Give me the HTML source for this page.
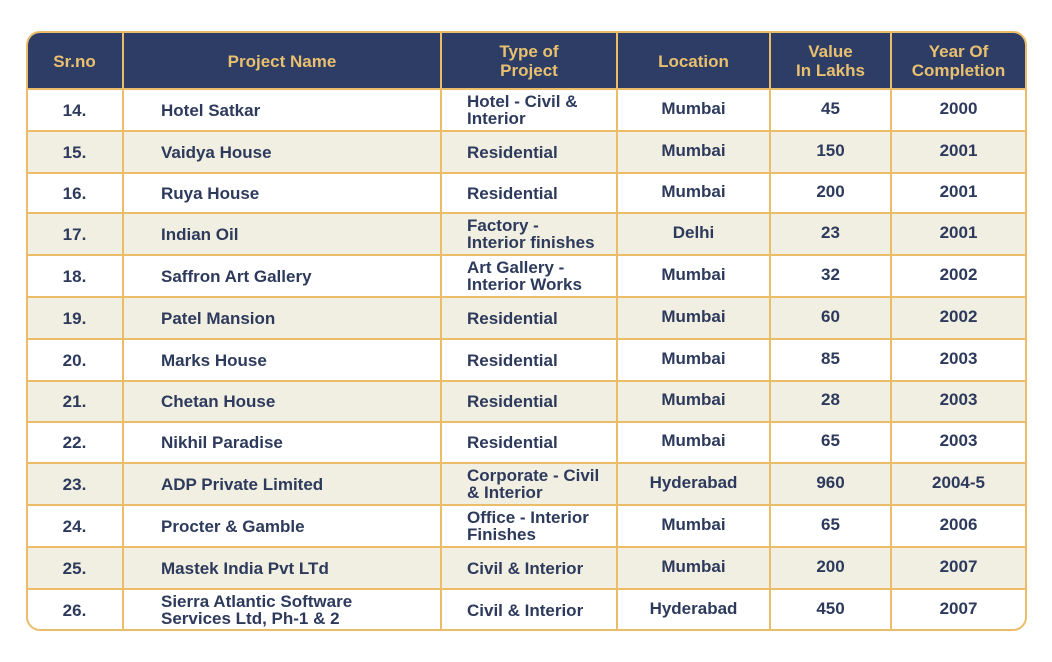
<!DOCTYPE html>
<html><head><style>
body{margin:0;width:1052px;height:662px;background:#fff;font-family:"Liberation Sans",sans-serif;position:relative;overflow:hidden}
.t{position:absolute;left:26px;top:31px;width:997px;height:596px;border:2px solid #ebbd68;border-radius:14px;overflow:hidden;background:#fff}
.h{position:absolute;left:0;top:0;width:100%;height:56px;background:#2d3d66}
.r{position:absolute;left:0;width:100%;border-top:2px solid #ebbd68}
.alt{background:#f1eee2}
.v{position:absolute;top:0;bottom:0;width:2px;background:#ebbd68}
.c{position:absolute;display:flex;align-items:center;font-weight:bold;font-size:17px;color:#2d3a5c;line-height:17px}
.hc{color:#e8c070;justify-content:center;text-align:center;line-height:19px}
.ctr{justify-content:center;text-align:center}
</style></head><body>
<div class="t" id="t"></div>
<script>
const t=document.getElementById('t');
const rows=[
["14.","Hotel Satkar","Hotel - Civil &amp;<br>Interior","Mumbai","45","2000"],
["15.","Vaidya House","Residential","Mumbai","150","2001"],
["16.","Ruya House","Residential","Mumbai","200","2001"],
["17.","Indian Oil","Factory -<br>Interior finishes","Delhi","23","2001"],
["18.","Saffron Art Gallery","Art Gallery -<br>Interior Works","Mumbai","32","2002"],
["19.","Patel Mansion","Residential","Mumbai","60","2002"],
["20.","Marks House","Residential","Mumbai","85","2003"],
["21.","Chetan House","Residential","Mumbai","28","2003"],
["22.","Nikhil Paradise","Residential","Mumbai","65","2003"],
["23.","ADP Private Limited","Corporate - Civil<br>&amp; Interior","Hyderabad","960","2004-5"],
["24.","Procter &amp; Gamble","Office - Interior<br>Finishes","Mumbai","65","2006"],
["25.","Mastek India Pvt LTd","Civil &amp; Interior","Mumbai","200","2007"],
["26.","Sierra Atlantic Software<br>Services Ltd, Ph-1 &amp; 2","Civil &amp; Interior","Hyderabad","450","2007"]];
const tops=[88,130,172,212,254,296,338,380,421,462,504,546,588,630];
const cols=[26,123,441,617,770,891,1026];
let h='<div class="h"></div>';
const hd=["Sr.no","Project Name","Type of<br>Project","Location","Value<br>In Lakhs","Year Of<br>Completion"];
hd.forEach((s,i)=>{h+=`<div class="c hc" style="left:${cols[i]-28}px;width:${cols[i+1]-cols[i]}px;top:0;height:56px">${s}</div>`});
rows.forEach((r,k)=>{
 const y=tops[k]-33,hh=tops[k+1]-tops[k];
 h+=`<div class="r ${k%2?'alt':''}" style="top:${y}px;height:${hh}px"></div>`;
 r.forEach((s,i)=>{
  let st,cl='c';
  if(i==1) st=`left:${161-28}px;width:300px`;
  else if(i==2) st=`left:${467-28}px;width:150px`;
  else {cl+=' ctr';st=`left:${cols[i]-28}px;width:${cols[i+1]-cols[i]}px`;}
  const dy=(i>=3)?-2:0;
  h+=`<div class="${cl}" style="${st};top:${y+2+dy}px;height:${hh-2}px">${s}</div>`;
 });
});
for(let i=1;i<6;i++)h+=`<div class="v" style="left:${cols[i]-29}px"></div>`;
t.innerHTML=h;
</script>
</body></html>
